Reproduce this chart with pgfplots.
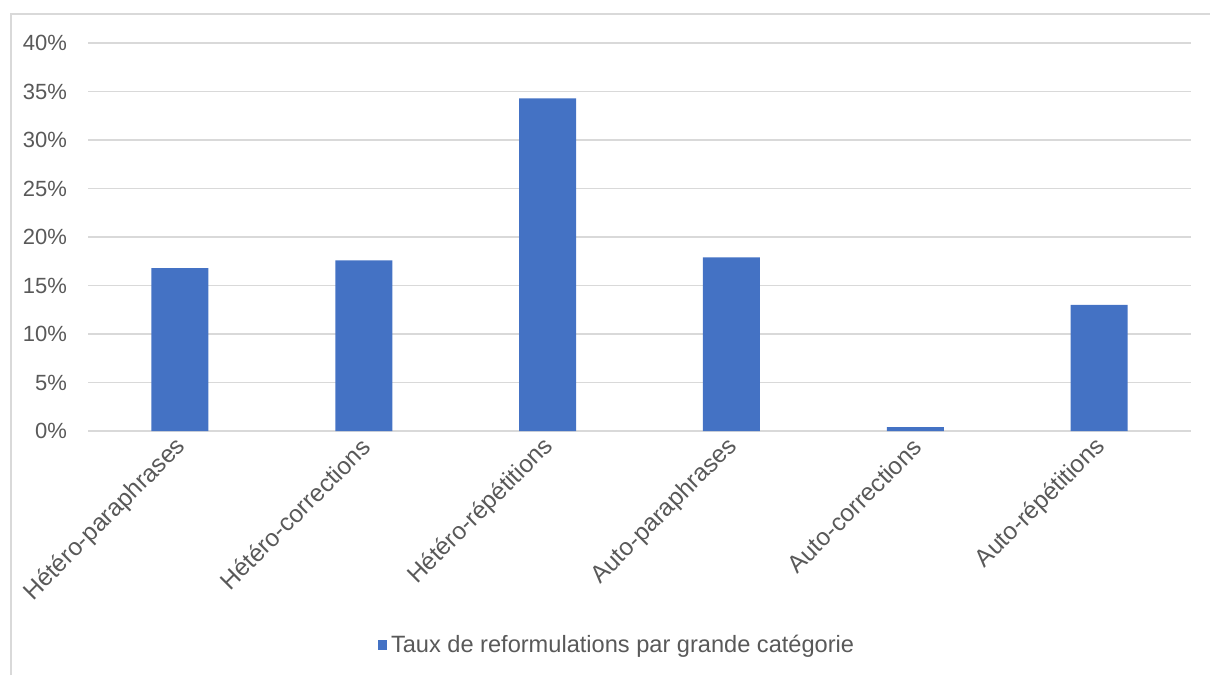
\documentclass[border=0pt]{standalone}
\usepackage{pgfplots}
\pgfplotsset{compat=1.18}
\usepackage{fontspec}
\setmainfont{Liberation Sans}
\definecolor{barblue}{HTML}{4472C4}
\definecolor{gridgray}{HTML}{D9D9D9}
\definecolor{txtgray}{HTML}{595959}
\begin{document}
\begin{tikzpicture}[x=1pt,y=1pt]
\useasboundingbox (0,0) rectangle (605,337.5);
% chart frame (only top and left edges are visible)
\draw[gridgray, line width=0.8pt] (5.5,0) -- (5.5,330.5) -- (605,330.5);
\begin{axis}[
  at={(44pt,122pt)}, anchor=south west,
  scale only axis, width=551.5pt, height=194pt,
  xmin=-0.5, xmax=5.5, ymin=0, ymax=40,
  ytick={0,5,...,40},
  yticklabel={\pgfmathprintnumber{\tick}\%},
  /pgf/number format/assume math mode=true,
  xtick={0,...,5},
  xticklabels={Hétéro-paraphrases,Hétéro-corrections,Hétéro-répétitions,Auto-paraphrases,Auto-corrections,Auto-répétitions},
  axis line style={draw=none},
  major tick length=0pt,
  ymajorgrids, major grid style={gridgray, line width=0.8pt},
  ticklabel style={font=\fontsize{11}{13}\selectfont, text=txtgray},
  yticklabel style={xshift=-7pt},
  xticklabel style={rotate=45, anchor=east, yshift=-5pt, font=\fontsize{12.2}{14}\selectfont},
  ybar, bar width=28.5pt,
  legend style={at={(0.4805,-0.5515)}, anchor=center, draw=none,
    font=\fontsize{11.8}{14}\selectfont, text=txtgray},
  legend image code/.code={\fill[barblue] (0pt,-2.3pt) rectangle (4.6pt,2.3pt);},
]
\addplot[fill=barblue, draw=none] coordinates {
  (0,16.8) (1,17.6) (2,34.3) (3,17.9) (4,0.4) (5,13.0)
};
\addlegendentry{Taux de reformulations par grande catégorie}
\end{axis}
\end{tikzpicture}
\end{document}
